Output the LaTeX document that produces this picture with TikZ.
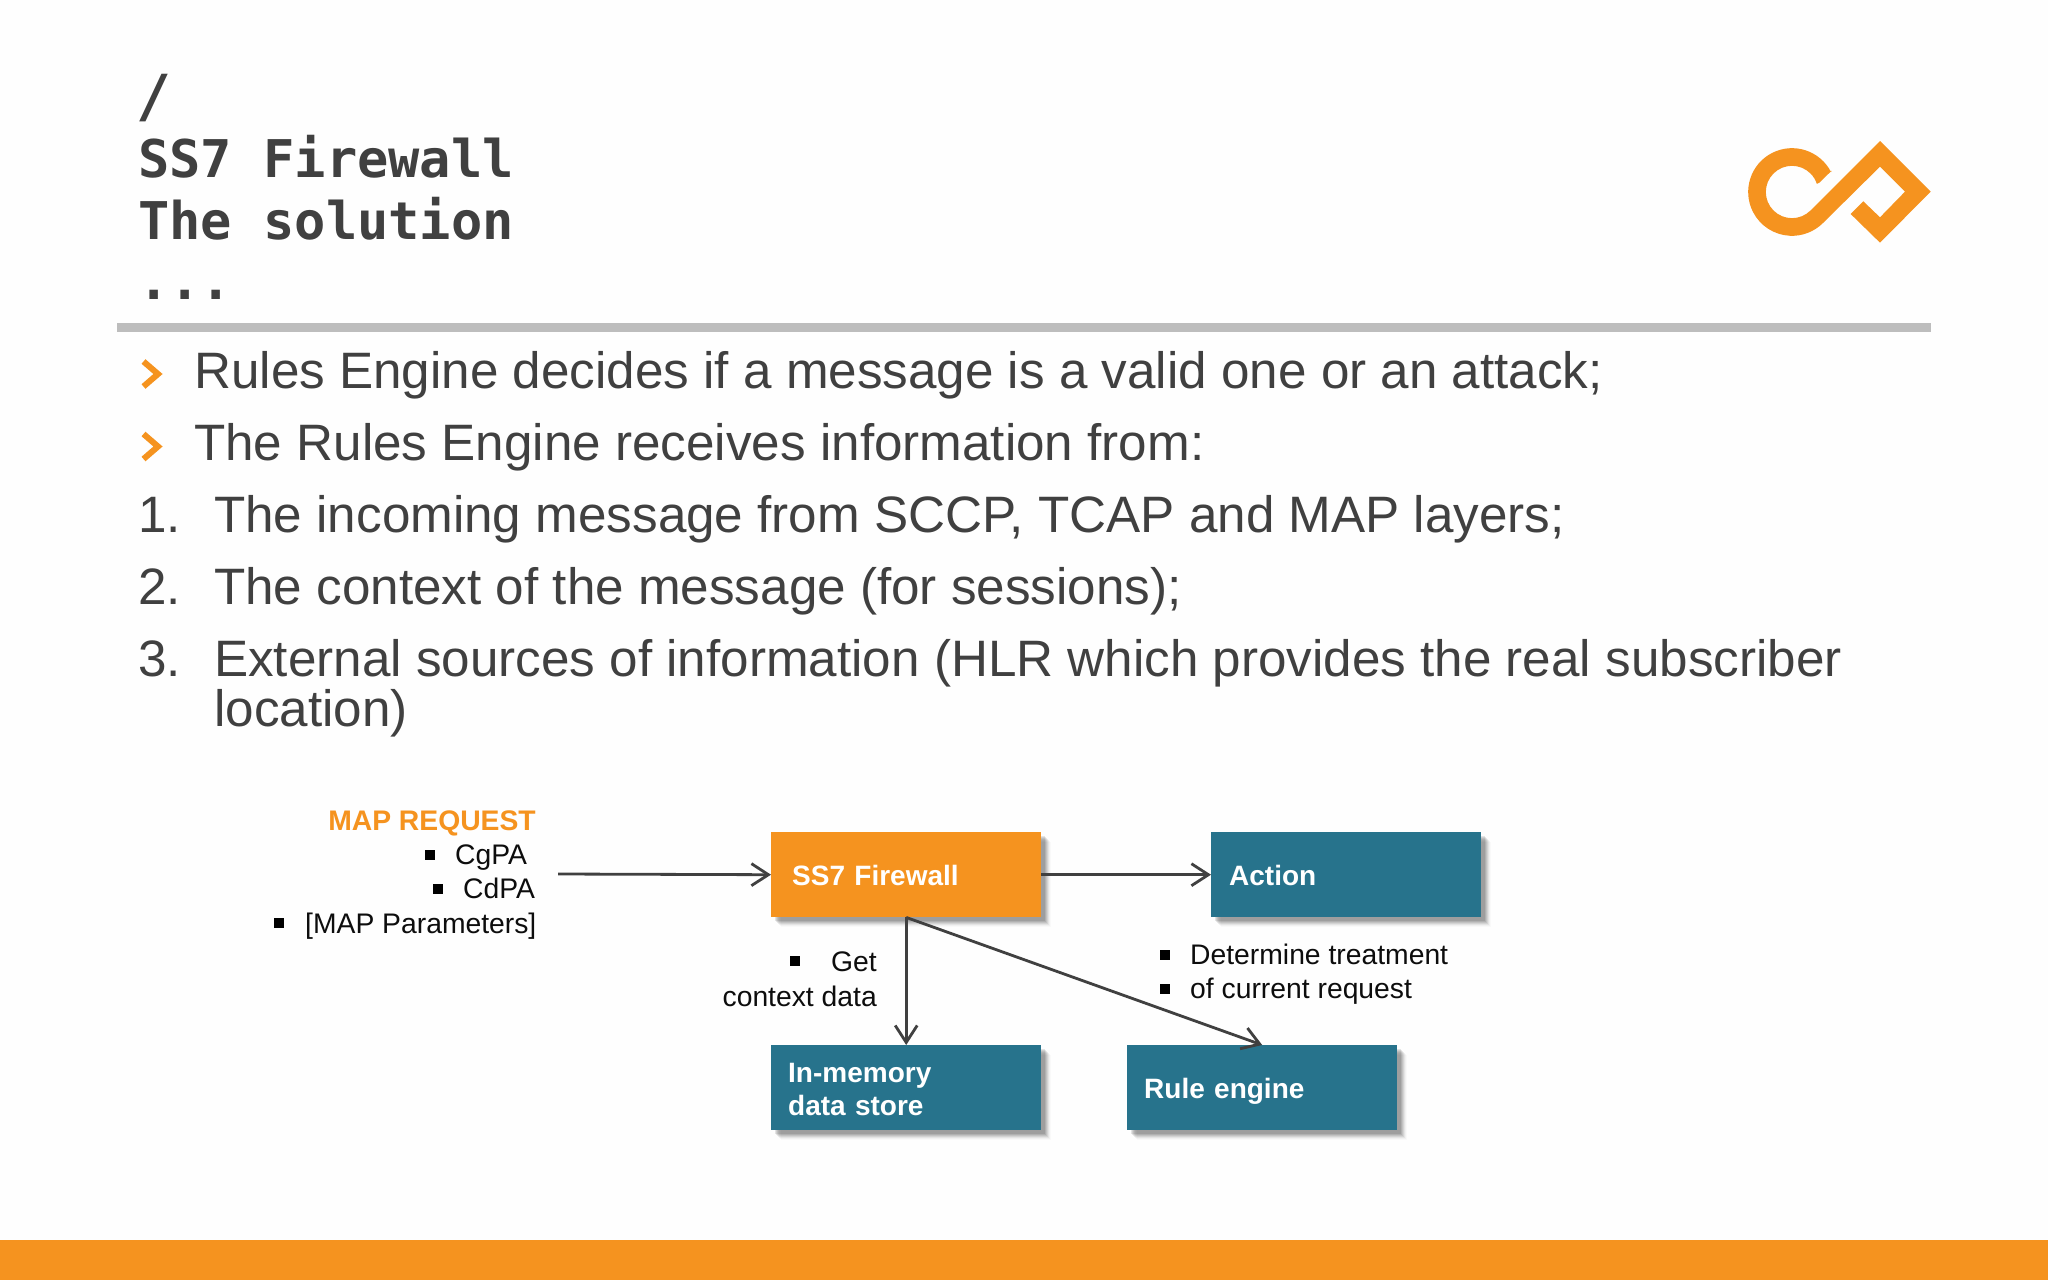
\documentclass[tikz,border=0pt]{standalone}
\usepackage{fontspec}
\setmainfont{Liberation Sans}
\newfontfamily\titlemono{DejaVu Sans Mono}
\usetikzlibrary{arrows.meta,shadows}
\definecolor{orangeb}{HTML}{F5931F}
\definecolor{tealb}{HTML}{27738C}
\definecolor{greyt}{HTML}{404040}
\definecolor{ruleg}{HTML}{BDBDBD}
\definecolor{pagebg}{HTML}{FEFEFE}
\tikzset{
  softshadow/.style={
    general shadow={shadow xshift=10pt,shadow yshift=-10pt,fill=black,fill opacity=.02},
    general shadow={shadow xshift=9pt,shadow yshift=-9pt,fill=black,fill opacity=.03},
    general shadow={shadow xshift=8pt,shadow yshift=-8pt,fill=black,fill opacity=.05},
    general shadow={shadow xshift=7pt,shadow yshift=-7pt,fill=black,fill opacity=.07},
    general shadow={shadow xshift=6pt,shadow yshift=-6pt,fill=black,fill opacity=.08},
    general shadow={shadow xshift=5pt,shadow yshift=-5pt,fill=black,fill opacity=.09},
    general shadow={shadow xshift=4pt,shadow yshift=-4pt,fill=black,fill opacity=.10}},
  boxn/.style={rectangle,softshadow,minimum width=270pt,minimum height=85pt,inner ysep=0pt,
    text=white,font=\fontsize{28}{33}\selectfont\bfseries,align=left,anchor=north west,
    text height=21pt,text depth=0pt},
  titlet/.style={anchor=base west,inner sep=0pt,text=greyt,font=\fontsize{52}{52}\selectfont\titlemono\bfseries},
  bodyt/.style={anchor=base west,inner sep=0pt,text=greyt,font=\fontsize{51.2}{51.2}\selectfont},
  diagt/.style={anchor=base west,inner sep=0pt,text=black!95,font=\fontsize{28.3}{28.3}\selectfont},
  diagr/.style={diagt,anchor=base east},
  sq/.style={rectangle,fill=black,inner sep=0pt,minimum size=9.5pt,anchor=center},
  link/.style={draw=greyt,line width=2.8pt,-{Straight Barb[length=17pt,width=22pt,line width=2.8pt]}},
  chev/.style={draw=orangeb,line width=6pt,miter limit=10}
}
\begin{document}
\begin{tikzpicture}[x=1pt,y=-1pt]
\useasboundingbox (0,0) rectangle (2048,1280);
\fill[pagebg] (0,0) rectangle (2048,1280);
\fill[orangeb] (0,1240) rectangle (2048,1280);
\fill[ruleg] (117,323) rectangle (1931,332);

% title
\node[titlet,font=\fontsize{58}{58}\selectfont\titlemono\bfseries] (t0) at (136,116.5) {/};
\node[titlet] (t1) at (138,177.5) {SS7 Firewall};
\node[titlet] (t2) at (138,239) {The solution};
\node[titlet] (t3) at (138,299.5) {...};

% logo
\begin{scope}[shift={(1700,120)},x=0.3333pt,y=-0.3333pt]
\fill[orangeb] (395,152) -- (393.2,156.3) arc[start angle=-27,end angle=-315,radius=131.5]
  -- (540,140) -- (615,215) -- (540,292) -- (490,244) -- (452,282) -- (540,368) -- (692,215) -- (540,63)
  -- (331.5,271.5) arc[start angle=45,end angle=342,radius=78.5] -- (358,188) -- cycle;
\end{scope}

% bullets
\draw[chev] (143.5,361.5) -- (158,374) -- (143.5,386.5);
\draw[chev] (143.5,434) -- (158,446.5) -- (143.5,459);
\node[bodyt] (b1) at (194,388) {Rules Engine decides if a message is a valid one or an attack;};
\node[bodyt] (b2) at (194,460) {The Rules Engine receives information from:};
\node[bodyt] (n1) at (138,532) {1.};
\node[bodyt] (l1) at (214,532) {The incoming message from SCCP, TCAP and MAP layers;};
\node[bodyt] (n2) at (138,604) {2.};
\node[bodyt] (l2) at (214,604) {The context of the message (for sessions);};
\node[bodyt] (n3) at (138,676) {3.};
\node[bodyt] (l3) at (214,676) {External sources of information (HLR which provides the real subscriber};
\node[bodyt] (l4) at (214,726) {location)};

% diagram boxes
\node[boxn,fill=orangeb,inner xsep=21pt,text width=228pt] (fw) at (771,832) {SS7 Firewall};
\node[boxn,fill=tealb,inner xsep=18pt,text width=234pt] (action) at (1211,832) {Action};
\node[boxn,fill=tealb,inner xsep=17pt,text width=236pt,text height=23pt,text depth=33pt] (store) at (771,1045) {In-memory\\data store};
\node[boxn,fill=tealb,inner xsep=17pt,text width=236pt] (rule) at (1127,1045) {Rule engine};

% left labels
\node[diagr,text=orangeb,font=\fontsize{28.3}{28.3}\selectfont\bfseries] (mapreq) at (536,830) {MAP REQUEST};
\node[sq] (s1) at (430,855) {};
\node[diagt] (cg) at (455,864) {CgPA};
\node[sq] (s2) at (438,889) {};
\node[diagt] (cd) at (463,898) {CdPA};
\node[sq] (s3) at (279,923) {};
\node[diagt] (mp) at (305,933) {[MAP Parameters]};
\coordinate (src) at (558,874);

% context labels
\node[sq] (s4) at (795,961) {};
\node[diagr] (get) at (877,971) {Get};
\node[diagr] (ctx) at (877,1006) {context data};
\node[sq] (s5) at (1165,955) {};
\node[diagt] (det) at (1190,964) {Determine treatment};
\node[sq] (s6) at (1165,989) {};
\node[diagt] (cur) at (1190,998) {of current request};

% connectors
\draw[link] (src) -- (fw.west);
\draw[link] (fw.east) -- (action.west);
\draw[link] (fw.south) -- (store.north);
\draw[link] (fw.south) -- (rule.north);
\end{tikzpicture}
\end{document}
